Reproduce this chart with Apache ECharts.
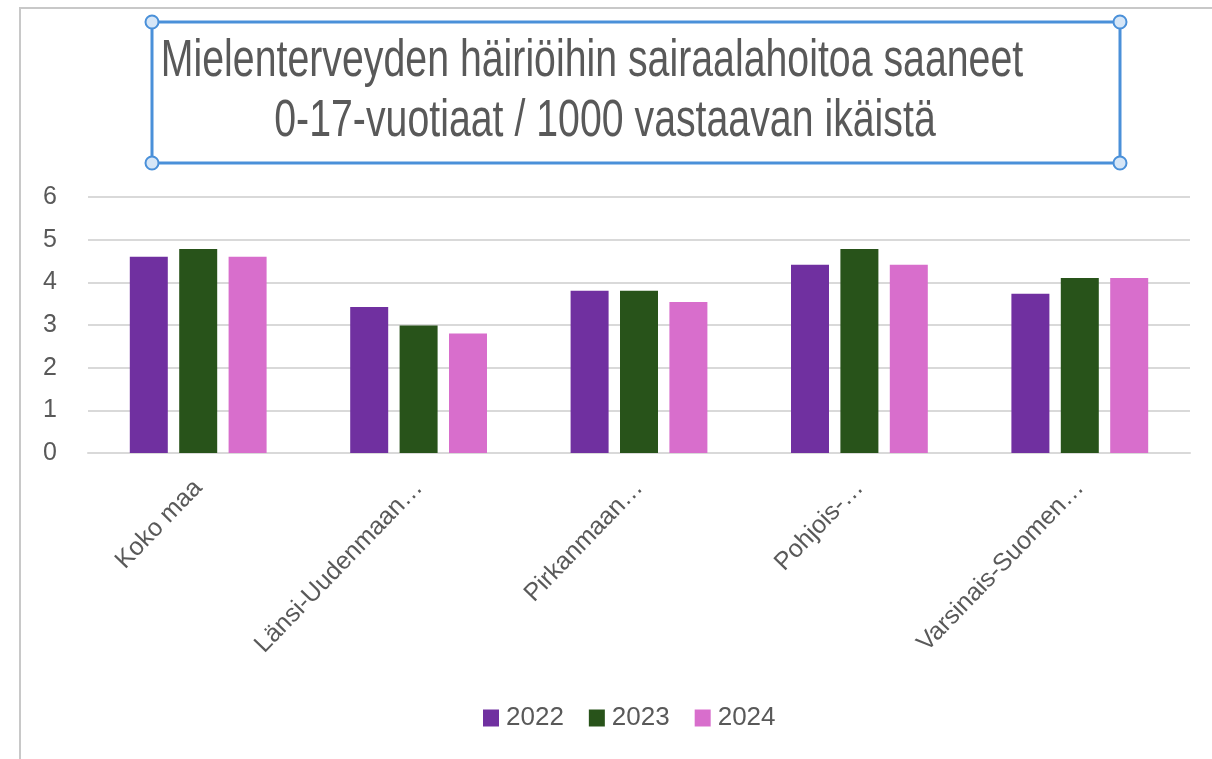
<!DOCTYPE html>
<html>
<head>
<meta charset="utf-8">
<script src="https://cdn.jsdelivr.net/npm/echarts@6/dist/echarts.min.js"></script>
<style>
  html, body { margin: 0; padding: 0; background: #fff; }
  #chart { width: 1212px; height: 759px; }
</style>
</head>
<body>
<div id="chart"></div>
<script>
  // data
  var regions = ['Koko maa', 'Länsi-Uudenmaan…', 'Pirkanmaan…', 'Pohjois-…', 'Varsinais-Suomen…'];
  var years = ['2022', '2023', '2024'];
  var v2022 = [4.6, 3.42, 3.8, 4.41, 3.73];
  var v2023 = [4.78, 2.99, 3.8, 4.78, 4.1];
  var v2024 = [4.6, 2.8, 3.54, 4.41, 4.1];
  var titleLines = ['Mielenterveyden häiriöihin sairaalahoitoa saaneet', '0-17-vuotiaat / 1000 vastaavan ikäistä'];
  var colors = ['#7030a0', '#28531a', '#d86ecc'];

  var font = "'Liberation Sans', Arial, sans-serif";
  var grey = '#595959';
  var blue = '#4a90d9';

  var chart = echarts.init(document.getElementById('chart'));

  // corner handle of the selected title box
  function handle(x, y) {
    return {
      type: 'circle', z: 10, silent: true,
      shape: { cx: x, cy: y, r: 6.5 },
      style: { fill: '#d6e6f7', stroke: blue, lineWidth: 2 }
    };
  }

  // title text is a bit narrow in the picture, so squeeze it
  function titleLine(text, cx, cy) {
    return {
      type: 'text', z: 8, silent: true,
      x: cx, y: cy, scaleX: 0.77,
      style: {
        text: text, x: 0, y: 0,
        align: 'center', verticalAlign: 'middle',
        fontFamily: font, fontSize: 51, fill: grey
      }
    };
  }

  var option = {
    animation: false,
    color: colors,
    textStyle: { fontFamily: font },
    legend: {
      data: years,
      left: 478,
      top: 700,
      itemWidth: 16,
      itemHeight: 17,
      itemGap: 25,
      icon: 'rect',
      textStyle: { fontFamily: font, fontSize: 26, color: grey, padding: [0, 0, 4, 2] }
    },
    grid: { left: 88, right: 22, top: 197, bottom: 306 },
    xAxis: {
      type: 'category',
      data: regions,
      axisLine: { lineStyle: { color: '#d9d9d9', width: 2 } },
      axisTick: { show: false },
      axisLabel: { rotate: 46, margin: 31, fontFamily: font, fontSize: 25, color: grey, interval: 0 }
    },
    yAxis: {
      type: 'value',
      min: 0,
      max: 6,
      interval: 1,
      axisLine: { show: false },
      axisTick: { show: false },
      splitLine: { lineStyle: { color: '#d9d9d9', width: 2 } },
      axisLabel: { margin: 31, fontFamily: font, fontSize: 25, color: grey, padding: [0, 0, 6, 0] }
    },
    series: [
      { name: years[0], type: 'bar', data: v2022, barWidth: 38, barGap: '30%' },
      { name: years[1], type: 'bar', data: v2023, barWidth: 38, barGap: '30%' },
      { name: years[2], type: 'bar', data: v2024, barWidth: 38, barGap: '30%' }
    ],
    graphic: [
      {
        type: 'rect', z: 0, silent: true,
        shape: { x: 20, y: 8, width: 1200, height: 760 },
        style: { fill: 'none', stroke: '#c8c8c8', lineWidth: 2 }
      },
      {
        type: 'rect', z: 9, silent: true,
        shape: { x: 152, y: 22, width: 968, height: 141 },
        style: { fill: 'none', stroke: blue, lineWidth: 3 }
      },
      titleLine(titleLines[0], 592, 62),
      titleLine(titleLines[1], 605, 122),
      handle(152, 22), handle(1120, 22), handle(152, 163), handle(1120, 163)
    ]
  };

  chart.setOption(option);
</script>
</body>
</html>
